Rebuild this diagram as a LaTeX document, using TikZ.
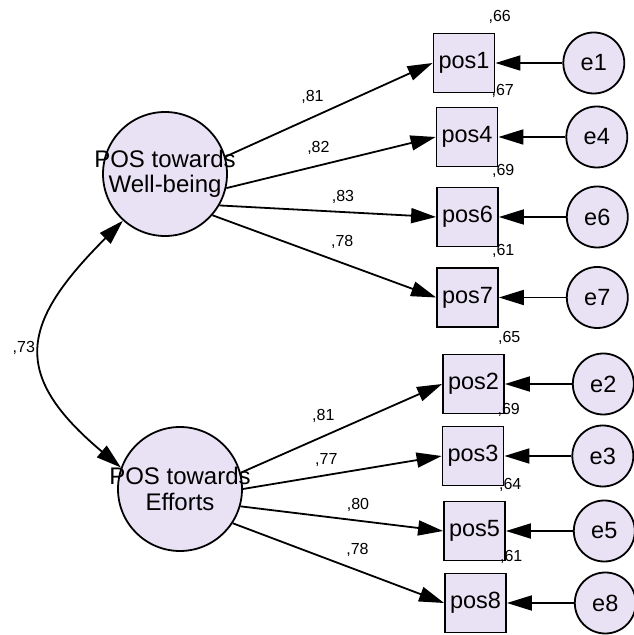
\documentclass[tikz,border=0pt]{standalone}
\usepackage{fontspec}
\setmainfont{Liberation Sans}
\usetikzlibrary{positioning,arrows.meta}
\definecolor{lav}{RGB}{233,226,244}
\tikzstyle{latent} = [draw, circle, line width=1.8pt, fill=lav, minimum size=124pt, inner sep=0pt]
\tikzstyle{ltext} = [align=center, font=\fontsize{24}{25.5}\selectfont]
\tikzstyle{observed} = [draw, rectangle, line width=1.8pt, fill=lav, minimum width=61pt, minimum height=59pt, inner sep=0pt, font=\fontsize{23.5}{25}\selectfont]
\tikzstyle{error} = [draw, circle, line width=1.8pt, fill=lav, minimum size=61pt, inner sep=0pt, font=\fontsize{23.5}{25}\selectfont]
\tikzstyle{val} = [font=\fontsize{16}{18}\selectfont, inner sep=1pt]
\tikzstyle{arrow} = [line width=1.8pt,-{Triangle[length=25pt,width=15pt]}]
\tikzstyle{covar} = [line width=1.8pt,{Triangle[length=25pt,width=15pt]}-{Triangle[length=25pt,width=15pt]}]
\tikzstyle{r2} = [val, xshift=-8pt, yshift=8pt]

\begin{document}
\begin{tikzpicture}[x=1pt,y=1pt]
    \useasboundingbox (0,0) rectangle (633,635);

    \node[latent, label={[ltext]center:POS towards\\Well-being}] (wb) at (165,461) {};
    \node[latent, label={[ltext]center:POS towards\\Efforts}   ] (ef) at (180,146) {};

    \node[observed, label={[r2]north east:,66}] (p1) at (464,572)   {pos1};
    \node[observed, label={[r2]north east:,67}] (p4) at (467,498)   {pos4};
    \node[observed, label={[r2]north east:,69}] (p6) at (467.5,418) {pos6};
    \node[observed, label={[r2]north east:,61}] (p7) at (467.5,337.5) {pos7};
    \node[observed, label={[r2]north east:,65}] (p2) at (473.5,251) {pos2};
    \node[observed, label={[r2]north east:,69}] (p3) at (473,179)   {pos3};
    \node[observed, label={[r2]north east:,64}] (p5) at (474.5,104) {pos5};
    \node[observed, label={[r2]north east:,61}] (p8) at (475.5,32)  {pos8};

    \node[error, right=67pt of p1] (e1) {e1};
    \node[error, right=67pt of p4] (e4) {e4};
    \node[error, right=67pt of p6] (e6) {e6};
    \node[error, right=67pt of p7] (e7) {e7};
    \node[error, right=67pt of p2] (e2) {e2};
    \node[error, right=67pt of p3] (e3) {e3};
    \node[error, right=67pt of p5] (e5) {e5};
    \node[error, right=67pt of p8] (e8) {e8};

    \draw[arrow] (wb.16)  -- (p1.west) node[val, pos=0.42, above=12pt]  {,81};
    \draw[arrow] (wb.-13) -- (p4.west) node[val, pos=0.44, above=9.5pt] {,82};
    \draw[arrow] (wb.-30) -- (p6.west) node[val, pos=0.57, above=7pt]   {,83};
    \draw[arrow] (wb.-41) -- (p7.west) node[val, pos=0.58, above=12.5pt]{,78};
    \draw[arrow] (ef.15)  -- (p2.west) node[val, pos=0.41, above=11.5pt]{,81};
    \draw[arrow] (ef.0)   -- (p3.west) node[val, pos=0.42, above=7pt]   {,77};
    \draw[arrow] (ef.-16) -- (p5.west) node[val, pos=0.58, above=7.5pt] {,80};
    \draw[arrow] (ef.-33) -- (p8.west) node[val, pos=0.59, above=12pt]  {,78};

    \draw[arrow] (e1) -- (p1);
    \draw[arrow] (e4) -- (p4);
    \draw[arrow] (e6) -- (p6);
    \draw[arrow] (e7) -- (p7);
    \draw[arrow] (e2) -- (p2);
    \draw[arrow] (e3) -- (p3);
    \draw[arrow] (e5) -- (p5);
    \draw[arrow] (e8) -- (p8);

    \draw[covar] (wb.228) to[out=225, in=140, looseness=1.5] node[val, pos=0.5, left=5pt] {,73} (ef.160);

\end{tikzpicture}
\end{document}
